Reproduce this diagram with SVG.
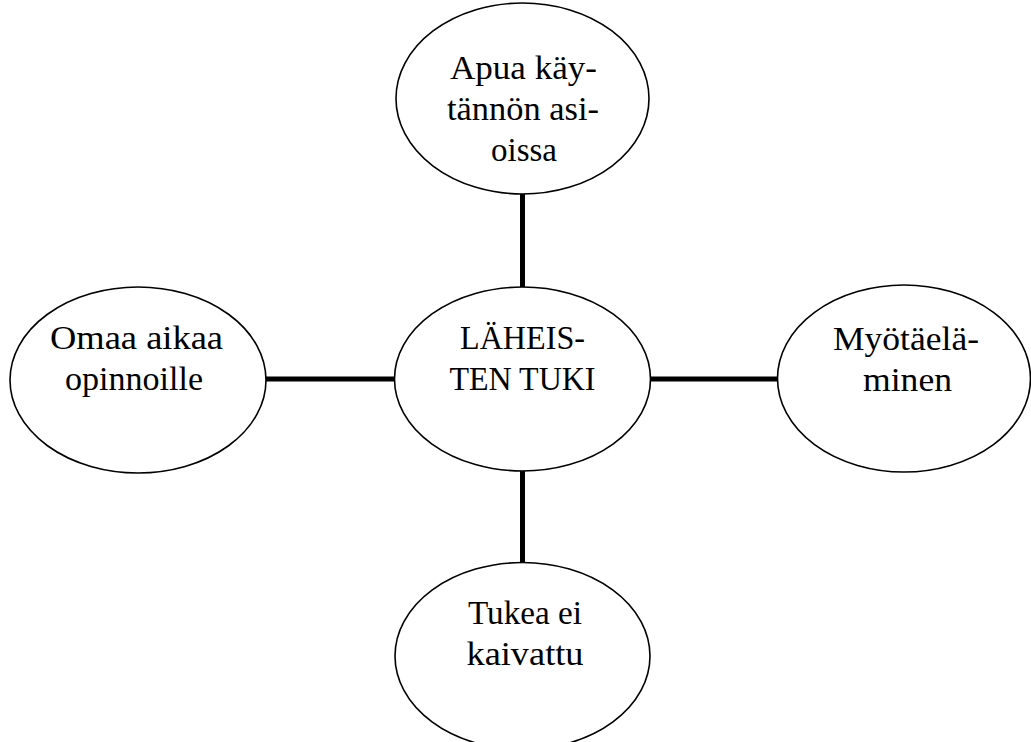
<svg xmlns="http://www.w3.org/2000/svg" width="1031" height="742" viewBox="0 0 1031 742">
<style>
.node ellipse{fill:#fff;stroke:#000;stroke-width:1.6}
.node text{font-family:"Liberation Serif",serif;font-size:33px;fill:#000;text-anchor:middle}
.conn line{stroke:#000;stroke-width:5}
</style>
<rect width="1031" height="742" fill="#fff"/>
<g class="conn" id="connectors">
<line x1="522.5" y1="194" x2="522.5" y2="288"/>
<line x1="266" y1="379" x2="395" y2="379"/>
<line x1="650" y1="379" x2="778" y2="379"/>
<line x1="522.5" y1="470" x2="522.5" y2="563"/>
</g>
<g class="node" id="center">
<ellipse cx="522.5" cy="379" rx="128" ry="92"/>
<text x="522.5" y="349" textLength="125" lengthAdjust="spacingAndGlyphs">LÄHEIS-</text>
<text x="522.5" y="390" textLength="146" lengthAdjust="spacingAndGlyphs">TEN TUKI</text>
</g>
<g class="node" id="top">
<ellipse cx="522.5" cy="98.5" rx="126.5" ry="95.5"/>
<text x="523.5" y="79" textLength="147" lengthAdjust="spacingAndGlyphs">Apua käy-</text>
<text x="523" y="120" textLength="152" lengthAdjust="spacingAndGlyphs">tännön asi-</text>
<text x="524" y="161" textLength="66" lengthAdjust="spacingAndGlyphs">oissa</text>
</g>
<g class="node" id="left">
<ellipse cx="138" cy="380" rx="128" ry="93"/>
<text x="136.5" y="349" textLength="173" lengthAdjust="spacingAndGlyphs">Omaa aikaa</text>
<text x="134" y="390" textLength="138" lengthAdjust="spacingAndGlyphs">opinnoille</text>
</g>
<g class="node" id="right">
<ellipse cx="904" cy="378.5" rx="126.5" ry="93.5"/>
<text x="906" y="350" textLength="146" lengthAdjust="spacingAndGlyphs">Myötäelä-</text>
<text x="907.5" y="391" textLength="89" lengthAdjust="spacingAndGlyphs">minen</text>
</g>
<g class="node" id="bottom">
<ellipse cx="522.5" cy="656" rx="127.5" ry="93.5"/>
<text x="525" y="624" textLength="114" lengthAdjust="spacingAndGlyphs">Tukea ei</text>
<text x="525" y="665" textLength="117" lengthAdjust="spacingAndGlyphs">kaivattu</text>
</g>
</svg>
